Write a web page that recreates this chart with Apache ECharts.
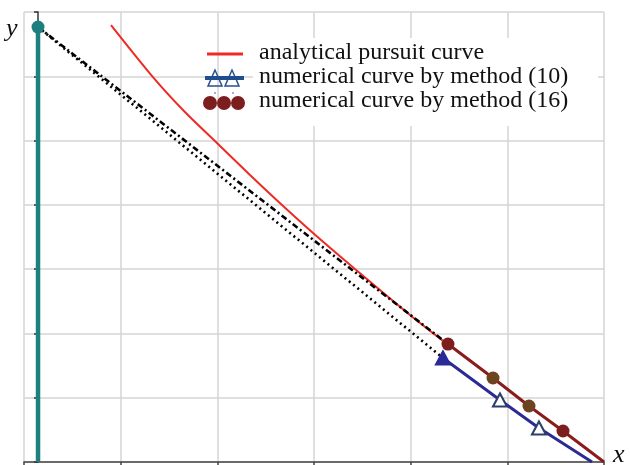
<!DOCTYPE html>
<html><head><meta charset="utf-8">
<script src="https://cdn.jsdelivr.net/npm/echarts@6/dist/echarts.min.js"></script>
<style>html,body{margin:0;padding:0;background:#fff}#c{width:630px;height:465px}</style>
</head><body><div id="c"></div>
<script>
// pursuer start (vertical line at x0)
var startPoint = [0.145, 6.766];
var pursuerLine = [[0.145, 0], [0.145, 6.766]];
// analytical pursuit curve
var analyticX = [0.900, 1.334, 1.665, 1.996, 2.338, 2.669, 2.990, 3.424, 3.993, 4.376];
var analyticY = [6.797, 5.988, 5.444, 4.962, 4.464, 3.997, 3.562, 3.002, 2.287, 1.835];
// numerical method (10): triangles
var m10X = [4.334, 4.924, 5.327, 5.876];
var m10Y = [1.618, 0.964, 0.529, 0.0];
// numerical method (16): circles
var m16X = [4.386, 4.852, 5.224, 5.576, 6.0];
var m16Y = [1.835, 1.307, 0.871, 0.482, 0.0];
// connecting guide lines
var dashedEnd = [4.386, 1.835];
var dottedEnd = [4.334, 1.618];
var legendLabels = ['analytical pursuit curve', 'numerical curve by method (10)', 'numerical curve by method (16)'];

function zip(a, b) { return a.map(function (v, i) { return [v, b[i]]; }); }

var circleColors = ['#7d1e1e', '#6e4420', '#6e4420', '#7d1e1e'];
var m16Data = zip(m16X, m16Y).map(function (p, i) {
  if (i < circleColors.length) return { value: p, itemStyle: { color: circleColors[i] } };
  return { value: p, symbol: 'none' };
});
var m10Data = zip(m10X, m10Y).map(function (p, i) {
  if (i === 0) return { value: p, itemStyle: { color: '#2a2a9a', borderColor: '#2a2a9a' } };
  if (i === m10X.length - 1) return { value: p, symbol: 'none' };
  return { value: p };
});

var serif = 'Liberation Serif';
function legendText(t, y) {
  return { type: 'text', x: 259, y: y, z: 20,
    style: { text: t, fontSize: 24, fontFamily: serif, fill: '#111', verticalAlign: 'middle' } };
}
var chart = echarts.init(document.getElementById('c'), null, { renderer: 'canvas' });
chart.setOption({
  animation: false,
  grid: { left: 24, right: 26, top: 12, bottom: 3 },
  xAxis: {
    type: 'value', min: 0, max: 6, interval: 1,
    axisLine: { onZero: false, lineStyle: { color: '#444', width: 1.5 } },
    axisTick: { show: true, length: 3, lineStyle: { color: '#444', width: 1.5 } },
    axisLabel: { show: false },
    splitLine: { show: true, lineStyle: { color: '#d4d4d4', width: 1.5 } }
  },
  yAxis: {
    type: 'value', min: 0, max: 7, interval: 1, offset: -14,
    axisLine: { show: true, onZero: false, lineStyle: { color: '#333', width: 1.5 } },
    axisTick: { show: true, length: 4, lineStyle: { color: '#333', width: 1.5 } },
    axisLabel: { show: false },
    splitLine: { show: true, lineStyle: { color: '#d4d4d4', width: 1.5 } }
  },
  series: [
    { type: 'line', data: pursuerLine, symbol: 'none', lineStyle: { color: '#1e807e', width: 4.5 }, z: 3 },
    { type: 'line', data: [startPoint, dashedEnd], symbol: 'none', lineStyle: { color: '#000', width: 2.6, type: [6, 3, 2, 3] }, z: 4 },
    { type: 'line', data: [startPoint, dottedEnd], symbol: 'none', lineStyle: { color: '#000', width: 2.6, type: [2, 3.5] }, z: 4 },
    { type: 'line', data: zip(analyticX, analyticY), symbol: 'none', smooth: 0.25, lineStyle: { color: '#ee2a24', width: 2 }, z: 3 },
    { type: 'line', data: m10Data, symbol: 'triangle', symbolSize: [14, 13], showAllSymbol: true,
      lineStyle: { color: '#2b2b93', width: 3 },
      itemStyle: { color: '#ffffff', borderColor: '#2c3e6c', borderWidth: 2 }, z: 5 },
    { type: 'line', data: m16Data, symbol: 'circle', symbolSize: 13, showAllSymbol: true,
      lineStyle: { color: '#8b1c1c', width: 3 },
      itemStyle: { color: '#7d1e1e', borderWidth: 0 }, z: 5 },
    { type: 'scatter', data: [startPoint], symbol: 'circle', symbolSize: 13, itemStyle: { color: '#1e807e', opacity: 1 }, z: 6 }
  ],
  graphic: [
    { type: 'text', x: 6, y: 16, style: { text: 'y', fontSize: 26, fontStyle: 'italic', fontFamily: serif, fill: '#111' } },
    { type: 'text', x: 613, y: 442, style: { text: 'x', fontSize: 26, fontStyle: 'italic', fontFamily: serif, fill: '#111' } },
    // legend background behind text
    { type: 'rect', shape: { x: 253, y: 38, width: 345, height: 88 }, style: { fill: '#ffffff' }, z: 10 },
    // legend symbols
    { type: 'line', shape: { x1: 207, y1: 54, x2: 243, y2: 54 }, style: { stroke: '#ee2a24', lineWidth: 3 }, z: 11 },
    { type: 'polygon', shape: { points: [[215, 70], [208, 86], [222, 86]] }, style: { fill: 'none', stroke: '#2c4f8c', lineWidth: 1.5 }, z: 11 },
    { type: 'polygon', shape: { points: [[232, 70], [225, 86], [239, 86]] }, style: { fill: 'none', stroke: '#2c4f8c', lineWidth: 1.5 }, z: 11 },
    { type: 'line', shape: { x1: 205, y1: 78, x2: 244, y2: 78 }, style: { stroke: '#1f4e8c', lineWidth: 4 }, z: 12 },
    { type: 'circle', shape: { cx: 215, cy: 93, r: 0.8 }, style: { fill: '#2c4f8c' }, z: 11 },
    { type: 'circle', shape: { cx: 233, cy: 93, r: 0.8 }, style: { fill: '#2c4f8c' }, z: 11 },
    { type: 'circle', shape: { cx: 210, cy: 103, r: 7 }, style: { fill: '#7d1e1e' }, z: 11 },
    { type: 'circle', shape: { cx: 224, cy: 103, r: 7 }, style: { fill: '#7d1e1e' }, z: 11 },
    { type: 'circle', shape: { cx: 238, cy: 103, r: 7 }, style: { fill: '#7d1e1e' }, z: 11 },
    legendText(legendLabels[0], 53),
    legendText(legendLabels[1], 77),
    legendText(legendLabels[2], 101)
  ]
});
</script></body></html>
